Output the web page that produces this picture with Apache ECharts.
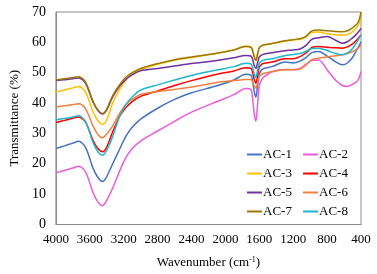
<!DOCTYPE html>
<html>
<head>
<meta charset="utf-8">
<script src="https://cdn.jsdelivr.net/npm/echarts@6/dist/echarts.min.js"></script>
<style>
  html, body { margin: 0; padding: 0; background: #fff; }
  #chart { width: 377px; height: 274px; }
</style>
</head>
<body>
<div id="chart"></div>
<script>
// numero de onda (cm-1)
const wavenumbers = [4000, 3900, 3800, 3730, 3650, 3560, 3500, 3450, 3400, 3330, 3250, 3175, 3100, 3000, 2800, 2600, 2400, 2100, 1900, 1760, 1700, 1680, 1660, 1640, 1620, 1600, 1570, 1540, 1450, 1300, 1200, 1120, 1050, 980, 900, 800, 700, 620, 560, 500, 450, 420, 400];

const ac1 = [25.0, 25.9, 26.8, 27.4, 25.4, 18.4, 15.3, 14.2, 15.8, 20.0, 24.7, 29.0, 32.0, 34.7, 38.3, 41.2, 43.4, 45.7, 47.6, 49.5, 49.3, 47.5, 43.8, 42.0, 45.8, 49.6, 51.0, 51.5, 52.0, 53.5, 53.2, 53.8, 55.0, 56.6, 57.0, 55.5, 53.6, 52.6, 53.2, 55.0, 57.5, 59.0, 60.2];
const ac2 = [17.0, 17.8, 18.6, 19.2, 17.3, 10.4, 7.2, 6.2, 8.0, 12.0, 17.5, 22.0, 25.0, 27.5, 30.8, 34.0, 37.0, 40.5, 42.8, 44.8, 44.5, 41.8, 36.5, 34.0, 39.8, 45.7, 47.8, 48.7, 50.3, 51.1, 51.0, 51.4, 52.8, 54.0, 54.2, 51.0, 47.5, 45.8, 45.5, 46.2, 47.0, 48.5, 50.4];
const ac3 = [43.6, 44.3, 45.0, 45.5, 43.6, 37.0, 34.0, 33.0, 34.5, 40.0, 44.5, 47.5, 49.6, 51.0, 52.8, 54.1, 55.0, 56.4, 57.6, 58.8, 58.5, 57.5, 55.6, 54.6, 56.4, 58.3, 58.9, 59.2, 59.6, 60.4, 60.8, 61.0, 61.8, 63.3, 63.4, 62.8, 62.5, 62.4, 62.6, 63.5, 65.0, 66.5, 67.9];
const ac4 = [33.6, 34.3, 35.0, 35.4, 33.7, 27.6, 24.9, 24.0, 25.5, 30.5, 35.5, 38.5, 40.5, 42.2, 44.0, 45.8, 47.4, 49.5, 50.6, 51.6, 51.5, 50.3, 47.8, 46.5, 49.1, 51.8, 52.8, 53.1, 53.5, 54.6, 54.6, 55.3, 56.5, 58.3, 58.6, 58.4, 58.2, 58.1, 58.5, 59.5, 60.8, 61.8, 62.4];
const ac5 = [47.4, 47.7, 48.0, 48.3, 46.5, 40.2, 37.4, 36.4, 37.8, 42.0, 45.5, 47.8, 49.3, 50.6, 51.4, 52.2, 53.0, 54.0, 54.9, 55.7, 55.5, 54.5, 52.4, 51.4, 53.3, 55.2, 55.9, 56.2, 56.6, 57.2, 57.5, 57.8, 59.0, 61.0, 61.5, 61.9, 60.7, 59.7, 60.2, 61.5, 62.8, 63.8, 64.6];
const ac6 = [38.7, 39.1, 39.5, 39.8, 38.1, 32.3, 29.5, 28.6, 29.8, 32.5, 36.5, 39.5, 41.2, 42.8, 43.8, 44.5, 45.3, 46.8, 47.4, 47.8, 47.8, 47.1, 45.7, 45.0, 46.9, 48.8, 49.5, 49.8, 50.3, 51.0, 51.0, 51.2, 52.5, 54.3, 54.8, 55.2, 55.6, 55.9, 56.3, 57.0, 57.8, 58.5, 59.2];
const ac7 = [47.6, 48.0, 48.4, 48.7, 46.9, 40.4, 37.6, 36.6, 38.0, 42.5, 46.0, 48.5, 50.0, 51.4, 53.0, 54.3, 55.2, 56.4, 57.5, 58.6, 58.4, 57.3, 55.1, 54.0, 56.1, 58.2, 58.9, 59.2, 59.6, 60.5, 60.9, 61.2, 62.0, 63.8, 64.1, 63.8, 63.6, 63.5, 63.8, 64.8, 66.0, 67.5, 70.0];
const ac8 = [34.5, 34.9, 35.4, 35.8, 33.8, 26.9, 23.8, 22.8, 24.5, 29.0, 35.5, 39.5, 42.0, 44.3, 46.0, 47.6, 49.1, 50.9, 52.0, 53.1, 52.9, 51.8, 49.6, 48.5, 50.8, 53.1, 53.9, 54.2, 54.6, 55.6, 56.0, 56.3, 57.0, 58.0, 58.1, 57.3, 56.3, 55.9, 56.5, 58.0, 60.0, 61.5, 62.4];

const seriesNames = ['AC-1', 'AC-2', 'AC-3', 'AC-4', 'AC-5', 'AC-6', 'AC-7', 'AC-8'];
const seriesValues = [ac1, ac2, ac3, ac4, ac5, ac6, ac7, ac8];
const colors = ['#4472C4', '#EB5BDC', '#FFC000', '#FF0000', '#7030A0', '#F08040', '#9C7800', '#21B6C9'];

const fuente = 'Liberation Serif';

const legendBase = {
  orient: 'vertical',
  top: 148,
  padding: 0,
  itemGap: 6,
  itemWidth: 15,
  itemHeight: 2,
  icon: 'rect',
  textStyle: { fontFamily: fuente, fontSize: 13, color: '#000', padding: [0, 0, 0, -4] }
};

const chart = echarts.init(document.getElementById('chart'));
chart.setOption({
  animation: false,
  color: colors,
  grid: {
    left: 50, right: 16, top: 12, bottom: 49,
    show: true, borderColor: '#8c8c8c', borderWidth: 1
  },
  legend: [
    Object.assign({}, legendBase, { left: 247, data: ['AC-1', 'AC-3', 'AC-5', 'AC-7'] }),
    Object.assign({}, legendBase, { left: 303, data: ['AC-2', 'AC-4', 'AC-6', 'AC-8'] })
  ],
  xAxis: {
    type: 'value',
    inverse: true,
    min: 400,
    max: 4000,
    interval: 400,
    name: 'Wavenumber (cm{sup|-1})',
    nameLocation: 'middle',
    nameGap: 31,
    nameTextStyle: {
      fontFamily: fuente, fontSize: 13, color: '#000',
      rich: { sup: { fontFamily: fuente, fontSize: 8, color: '#000', verticalAlign: 'top', padding: [0, 0, 6, 0] } }
    },
    axisLine: { onZero: false, lineStyle: { color: '#8c8c8c' } },
    axisTick: { show: false },
    splitLine: { show: false },
    axisLabel: { fontFamily: fuente, fontSize: 13, color: '#000', margin: 9, formatter: v => String(v) }
  },
  yAxis: {
    type: 'value',
    min: 0,
    max: 70,
    interval: 10,
    name: 'Transmittance (%)',
    nameLocation: 'middle',
    nameGap: 33,
    nameTextStyle: { fontFamily: fuente, fontSize: 13, color: '#000' },
    axisLine: { show: true, onZero: false, lineStyle: { color: '#8c8c8c' } },
    axisTick: { show: false },
    splitLine: { show: false },
    axisLabel: { fontFamily: fuente, fontSize: 14, color: '#000', margin: 10 }
  },
  series: seriesNames.map((name, i) => ({
    name: name,
    type: 'line',
    data: wavenumbers.map((w, j) => [w, seriesValues[i][j]]),
    showSymbol: false,
    smooth: 0.3,
    lineStyle: { width: 1.5 }
  }))
});
</script>
</body>
</html>
